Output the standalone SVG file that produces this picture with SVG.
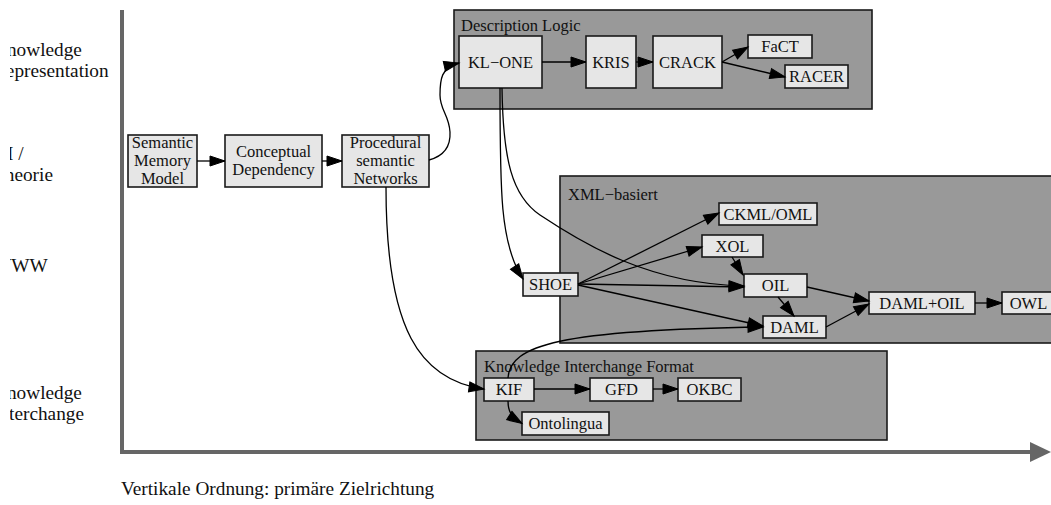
<svg xmlns="http://www.w3.org/2000/svg" width="1051" height="505" viewBox="0 0 1051 505">
  <style>
    text { font-family: "Liberation Serif", "Times New Roman", serif; fill: #111; }
    .lbl { font-size: 16.5px; }
    .mid { text-anchor: middle; }
    .side { font-size: 19.3px; }
    .node rect { fill: #e6e6e6; stroke: #1a1a1a; stroke-width: 1.6; }
    .cluster { fill: #999999; stroke: #1a1a1a; stroke-width: 1.6; }
    .edge { fill: none; stroke: #000; stroke-width: 1.3; marker-end: url(#head); }
    .axis { stroke: #666; stroke-width: 4; fill: none; }
  </style>
  <defs>
    <marker id="head" markerUnits="userSpaceOnUse" markerWidth="16" markerHeight="11" refX="15" refY="5" orient="auto" overflow="visible">
      <path d="M0,0 L15,5 L0,10 z" fill="#000" stroke="#000" stroke-width="1"/>
    </marker>
    <clipPath id="sideclip">
      <rect x="10" y="0" width="110" height="505"/>
    </clipPath>
  </defs>

  <rect width="1051" height="505" fill="#fff"/>

  <!-- axes -->
  <g id="axes">
    <path class="axis" d="M122,10 L122,452 L1032,452"/>
    <polygon points="1030,442 1051,452 1030,462" fill="#666"/>
  </g>

  <!-- row labels on the left -->
  <g id="row-labels" clip-path="url(#sideclip)">
    <text class="side" x="-7" y="55.5">Knowledge</text>
    <text class="side" x="-7" y="76.5">Representation</text>
    <text class="side" x="-7" y="159.5">KI /</text>
    <text class="side" x="-7" y="180.5">Theorie</text>
    <text class="side" x="-7" y="272">WWW</text>
    <text class="side" x="-7" y="399">Knowledge</text>
    <text class="side" x="-7" y="420">Interchange</text>
  </g>

  <text id="caption" class="side" x="121" y="495">Vertikale Ordnung: primäre Zielrichtung</text>

  <!-- clusters -->
  <g id="cluster-dl">
    <rect class="cluster" x="454" y="10" width="418" height="99"/>
    <text class="lbl" x="461" y="31">Description Logic</text>
  </g>
  <g id="cluster-xml">
    <rect class="cluster" x="560" y="176" width="500" height="167"/>
    <text class="lbl" x="568" y="200">XML−basiert</text>
  </g>
  <g id="cluster-kif">
    <rect class="cluster" x="476" y="351" width="411" height="89"/>
    <text class="lbl" x="484" y="372">Knowledge Interchange Format</text>
  </g>

  <!-- nodes -->
  <g id="n-smm" class="node">
    <rect x="128" y="135" width="69" height="52"/>
    <text class="lbl mid" x="162.5" y="148.4">Semantic</text>
    <text class="lbl mid" x="162.5" y="166">Memory</text>
    <text class="lbl mid" x="162.5" y="183.6">Model</text>
  </g>
  <g id="n-cd" class="node">
    <rect x="225" y="135" width="97" height="52"/>
    <text class="lbl mid" x="273.5" y="157.2">Conceptual</text>
    <text class="lbl mid" x="273.5" y="174.8">Dependency</text>
  </g>
  <g id="n-psn" class="node">
    <rect x="342" y="135" width="87" height="52"/>
    <text class="lbl mid" x="385.5" y="148.4">Procedural</text>
    <text class="lbl mid" x="385.5" y="166">semantic</text>
    <text class="lbl mid" x="385.5" y="183.6">Networks</text>
  </g>
  <g id="n-klone" class="node">
    <rect x="459" y="36" width="83" height="52"/>
    <text class="lbl mid" x="500.5" y="67.5">KL−ONE</text>
  </g>
  <g id="n-kris" class="node">
    <rect x="586" y="36" width="50" height="52"/>
    <text class="lbl mid" x="611" y="67.5">KRIS</text>
  </g>
  <g id="n-crack" class="node">
    <rect x="653" y="36" width="69" height="52"/>
    <text class="lbl mid" x="687.5" y="67.5">CRACK</text>
  </g>
  <g id="n-fact" class="node">
    <rect x="748" y="35" width="64" height="23"/>
    <text class="lbl mid" x="780" y="52">FaCT</text>
  </g>
  <g id="n-racer" class="node">
    <rect x="785" y="65" width="63" height="23"/>
    <text class="lbl mid" x="816.5" y="82">RACER</text>
  </g>
  <g id="n-shoe" class="node">
    <rect x="523" y="273" width="55" height="23"/>
    <text class="lbl mid" x="550.5" y="290">SHOE</text>
  </g>
  <g id="n-ckml" class="node">
    <rect x="719" y="203" width="98" height="22"/>
    <text class="lbl mid" x="768" y="219.5">CKML/OML</text>
  </g>
  <g id="n-xol" class="node">
    <rect x="702" y="235" width="61" height="22"/>
    <text class="lbl mid" x="732.5" y="251.5">XOL</text>
  </g>
  <g id="n-oil" class="node">
    <rect x="744" y="274" width="63" height="23"/>
    <text class="lbl mid" x="775.5" y="291">OIL</text>
  </g>
  <g id="n-daml" class="node">
    <rect x="763" y="316" width="63" height="22"/>
    <text class="lbl mid" x="794.5" y="332.5">DAML</text>
  </g>
  <g id="n-damloil" class="node">
    <rect x="869" y="292" width="106" height="22"/>
    <text class="lbl mid" x="922" y="308.5">DAML+OIL</text>
  </g>
  <g id="n-owl" class="node">
    <rect x="1002" y="292" width="53" height="22"/>
    <text class="lbl mid" x="1028.5" y="308.5">OWL</text>
  </g>
  <g id="n-kif" class="node">
    <rect x="484" y="378" width="50" height="23"/>
    <text class="lbl mid" x="509" y="395">KIF</text>
  </g>
  <g id="n-gfd" class="node">
    <rect x="590" y="378" width="63" height="23"/>
    <text class="lbl mid" x="621.5" y="395">GFD</text>
  </g>
  <g id="n-okbc" class="node">
    <rect x="678" y="378" width="63" height="23"/>
    <text class="lbl mid" x="709.5" y="395">OKBC</text>
  </g>
  <g id="n-ontolingua" class="node">
    <rect x="522" y="412" width="87" height="23"/>
    <text class="lbl mid" x="565.5" y="429">Ontolingua</text>
  </g>

  <!-- connectors -->
  <g id="edges">
    <path class="edge" d="M197,161 L225,161"/>
    <path class="edge" d="M322,161 L342,161"/>
    <path class="edge" d="M429,160 C440,157 451,150 450,132 C449,115 440,110 440,95 C440,80 441,67 459,63"/>
    <path class="edge" d="M386,187 C386,330 420,380 484,389"/>
    <path class="edge" d="M542,62 L586,62"/>
    <path class="edge" d="M636,62 L653,62"/>
    <path class="edge" d="M722,62 L748,47"/>
    <path class="edge" d="M722,62 L785,77"/>
    <path class="edge" d="M500,88 C500,190 500,245 523,279"/>
    <path class="edge" d="M502,88 C503,160 512,196 540,215 C585,245 650,284 744,286"/>
    <path class="edge" d="M578,284 L719,213"/>
    <path class="edge" d="M578,284 L702,247"/>
    <path class="edge" d="M578,284 L744,287"/>
    <path class="edge" d="M578,285 L763,326"/>
    <path class="edge" d="M732,257 L743,275"/>
    <path class="edge" d="M778,297 L794,316"/>
    <path class="edge" d="M807,287 L869,301"/>
    <path class="edge" d="M826,327 L869,304"/>
    <path class="edge" d="M975,303 L1002,303"/>
    <path class="edge" d="M508,378 C510,345 560,330 763,327"/>
    <path class="edge" d="M534,389 L590,389"/>
    <path class="edge" d="M653,389 L678,389"/>
    <path class="edge" d="M508,401 C508,410 510,416 522,423.5"/>
  </g>
</svg>
